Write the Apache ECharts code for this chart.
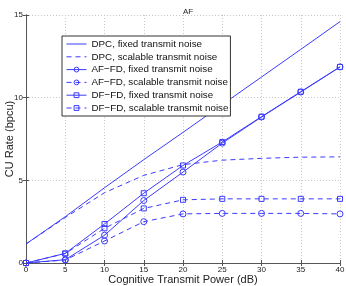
<!DOCTYPE html>
<html><head><meta charset="utf-8">
<script src="https://cdn.jsdelivr.net/npm/echarts@6/dist/echarts.min.js"></script>
<style>html,body{margin:0;padding:0;background:#fff}#c{width:346px;height:286px}</style>
</head><body><div id="c"></div>
<script>
var powerDb = [0, 5, 10, 15, 20, 25, 30, 35, 40];
var xTicks = [0, 5, 10, 15, 20, 25, 30, 35, 40];
var yTicks = [0, 5, 10, 15];
var dpcFixed = [1.15, 2.8, 4.55, 6.25, 7.9, 9.58, 11.25, 12.92, 14.6];
var dpcScalable = [1.15, 2.75, 4.25, 5.3, 5.95, 6.22, 6.33, 6.4, 6.42];
var afFixed = [0.0, 0.2, 1.68, 3.78, 5.5, 7.25, 8.83, 10.34, 11.86];
var afScalable = [0.0, 0.18, 1.33, 2.5, 2.97, 3.0, 3.0, 3.0, 2.97];
var dfFixed = [0.0, 0.58, 2.36, 4.22, 5.9, 7.32, 8.85, 10.36, 11.86];
var dfScalable = [0.0, 0.57, 2.1, 3.3, 3.82, 3.88, 3.88, 3.88, 3.88];
var names = ['DPC, fixed transmit noise','DPC, scalable transmit noise','AF\u2212FD, fixed transmit noise','AF\u2212FD, scalable transmit noise','DF\u2212FD, fixed transmit noise','DF\u2212FD, scalable transmit noise'];

var C = '#3b3bff';
var FONT = 'Liberation Sans, Arial, sans-serif';
function pairs(v){ return powerDb.map(function(x,i){return [x, v[i]];}); }
function mk(name, v, dashed, sym, size){
  return {name:name, type:'line', data:pairs(v), symbol: sym || 'none', symbolSize:size || 6,
    showSymbol: !!sym, animation:false,
    lineStyle:{color:C, width:1, type: dashed ? [5,4] : 'solid'},
    itemStyle:{color:'rgba(255,255,255,0)', borderColor:C, borderWidth:1}, z: 3};
}
var legendData = names.map(function(n, i){
  var d = {name:n};
  if (i < 2) d.itemStyle = {opacity:0};
  return d;
});
var chart = echarts.init(document.getElementById('c'), null, {renderer:'canvas'});
var axisFont = {fontFamily:FONT, fontSize:8, color:'#222'};
chart.setOption({
  backgroundColor:'#fff',
  animation:false,
  title:{text:'AF', left:183, textAlign:'center', top:3, textStyle:{fontFamily:FONT, fontSize:8, fontWeight:'normal', color:'#222'}},
  grid:{left:26, right:6, top:15, bottom:23, containLabel:false, outerBoundsMode:'none'},
  legend:{orient:'vertical', left:62, top:36, padding:[2,2,2,4], itemWidth:20, itemHeight:6, itemGap:0.8,
    backgroundColor:'#fff', borderColor:'#333', borderWidth:1, data:legendData,
    lineStyle:{width:1}, itemStyle:{borderWidth:1},
    textStyle:{fontFamily:FONT, fontSize:9.8, lineHeight:12, color:'#111'}},
  xAxis:[{type:'value', min:0, max:40, interval:5, name:'Cognitive Transmit Power (dB)', nameLocation:'middle', nameGap:11, nameMoveOverlap:false,
    nameTextStyle:{fontFamily:FONT, fontSize:11, color:'#222', verticalAlign:'top'},
    axisLine:{lineStyle:{color:'#555'}}, axisTick:{inside:true, length:3, lineStyle:{color:'#555'}},
    axisLabel:Object.assign({margin:3}, axisFont),
    splitLine:{show:true, lineStyle:{color:'#c8c8c8', type:[1,2]}}},
    {type:'value', position:'top', min:0, max:40, interval:5, axisLine:{lineStyle:{color:'#555'}}, axisTick:{inside:true, length:3, lineStyle:{color:'#555'}}, axisLabel:{show:false}, splitLine:{show:false}}],
  yAxis:[{type:'value', min:0, max:15, interval:5, name:'CU Rate (bpcu)', nameLocation:'middle', nameGap:11, nameMoveOverlap:false,
    nameTextStyle:{fontFamily:FONT, fontSize:11, color:'#222', verticalAlign:'bottom'},
    axisLine:{show:true, lineStyle:{color:'#555'}}, axisTick:{show:true, inside:true, length:3, lineStyle:{color:'#555'}},
    axisLabel:Object.assign({margin:3}, axisFont),
    splitLine:{show:true, lineStyle:{color:'#c8c8c8', type:[1,2]}}},
    {type:'value', position:'right', min:0, max:15, interval:5, axisLine:{show:true, lineStyle:{color:'#555'}}, axisTick:{show:true, inside:true, length:3, lineStyle:{color:'#555'}}, axisLabel:{show:false}, splitLine:{show:false}}],
  series:[
    mk(names[0], dpcFixed, false, null),
    mk(names[1], dpcScalable, true, null),
    mk(names[2], afFixed, false, 'circle', 6),
    mk(names[3], afScalable, true, 'circle', 6),
    mk(names[4], dfFixed, false, 'rect', 5),
    mk(names[5], dfScalable, true, 'rect', 5)
  ]
});
</script></body></html>
